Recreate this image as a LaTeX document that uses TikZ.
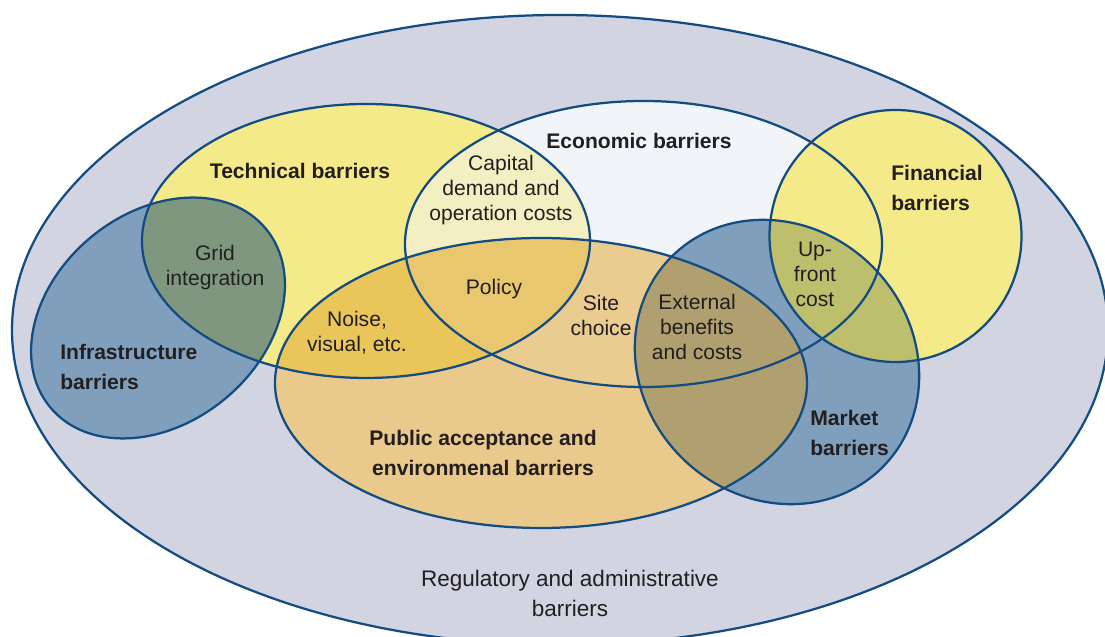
\documentclass[tikz,border=0pt]{standalone}
\usepackage{fontspec}
\setmainfont{Liberation Sans}
\usepackage{xcolor}
\usepackage{tikz}

\definecolor{rimblue}{HTML}{134C80}
\definecolor{ink}{HTML}{231F20}
\definecolor{regcol}{HTML}{D2D4E1}
\definecolor{ecocol}{HTML}{F1F5F9}
\definecolor{yelcol}{HTML}{F5EA8A}
\definecolor{capcol}{HTML}{F3EFC2}
\definecolor{pubcol}{HTML}{E9CA8C}
\definecolor{sitecol}{HTML}{EACB90}
\definecolor{noisecol}{HTML}{EAC55A}
\definecolor{policycol}{HTML}{E9C76F}
\definecolor{bluecol}{HTML}{7F9FBC}
\definecolor{gridcol}{HTML}{80977F}
\definecolor{extcol}{HTML}{B09F6F}
\definecolor{upcol}{HTML}{BDBF6D}

\tikzset{rim/.style={draw=rimblue, line width=1.6pt},
	head/.style={font=\fontsize{15}{21.3}\selectfont\bfseries, text=ink, align=center, inner sep=0pt},
	note/.style={font=\fontsize{15}{17.8}\selectfont, text=ink, align=center, inner sep=0pt}}

% the seven ellipses, in pixel units
\newcommand{\regE}{(560,307) ellipse [x radius=548, y radius=315]}
\newcommand{\ecoE}{(643.5,393) ellipse [x radius=238.5, y radius=143]}
\newcommand{\techE}{(366,396) ellipse [x radius=224, y radius=137]}
\newcommand{\pubE}{(541,254) ellipse [x radius=266, y radius=145]}
\newcommand{\infraE}{(158,319) ellipse [x radius=140, y radius=105, rotate=39.6]}
\newcommand{\marketE}{(777,275) ellipse [x radius=149, y radius=135, rotate=135]}
\newcommand{\finE}{(895.5,401) ellipse [x radius=126, y radius=126]}

\begin{document}
\begin{tikzpicture}[x=0.025cm, y=0.025cm, line join=round]
	\useasboundingbox (0,0) rectangle (1105,637);
	\clip (0,0) rectangle (1105,637);
	
	\fill[regcol] \regE;
	\fill[ecocol] \ecoE;
	\fill[yelcol] \techE;
	\fill[yelcol] \finE;
	\fill[bluecol] \infraE;
	\fill[bluecol] \marketE;
	\fill[pubcol] \pubE;
	
	% overlaps
	\begin{scope} \clip \ecoE; \fill[sitecol] \pubE; \end{scope}
	\begin{scope} \clip \techE; \fill[capcol] \ecoE; \end{scope}
	\begin{scope} \clip \techE; \fill[noisecol] \pubE; \end{scope}
	\begin{scope} \clip \techE; \clip \ecoE; \fill[policycol] \pubE; \end{scope}
	\begin{scope} \clip \infraE; \fill[gridcol] \techE; \end{scope}
	\begin{scope} \clip \marketE; \fill[extcol] \pubE; \end{scope}
	\begin{scope} \clip \marketE; \fill[upcol] \finE; \end{scope}
	
	% outlines
	\draw[rim] \regE;
	\draw[rim] \ecoE;
	\draw[rim] \techE;
	\draw[rim] \finE;
	\draw[rim] \infraE;
	\draw[rim] \marketE;
	\draw[rim] \pubE;
	
	\node[head] (tech) at (300,466) {Technical barriers};
	\node[head] (eco) at (639,496) {Economic barriers};
	\node[head, align=left, anchor=west] (fin) at (891,449) {Financial\\barriers};
	\node[head, align=left, anchor=west] (infra) at (60,270) {Infrastructure\\barriers};
	\node[head, align=left, anchor=west] (market) at (810,204) {Market\\barriers};
	\node[head] (public) at (483,184) {Public acceptance and\\environmenal barriers};
	\node[note, font=\fontsize{16}{21.3}\selectfont] (reg) at (570,44) {Regulatory and administrative\\barriers};
	
	\node[note] (capital) at (501,447) {Capital\\demand and\\operation costs};
	\node[note] (grid) at (215,369) {Grid\\integration};
	\node[note] (noise) at (357,304) {Noise,\\visual, etc.};
	\node[note] (policy) at (494,348) {Policy};
	\node[note] (site) at (601,322) {Site\\choice};
	\node[note] (extern) at (697,310) {External\\benefits\\and costs};
	\node[note] (upfront) at (815,363) {Up-\\front\\cost};
\end{tikzpicture}
\end{document}
